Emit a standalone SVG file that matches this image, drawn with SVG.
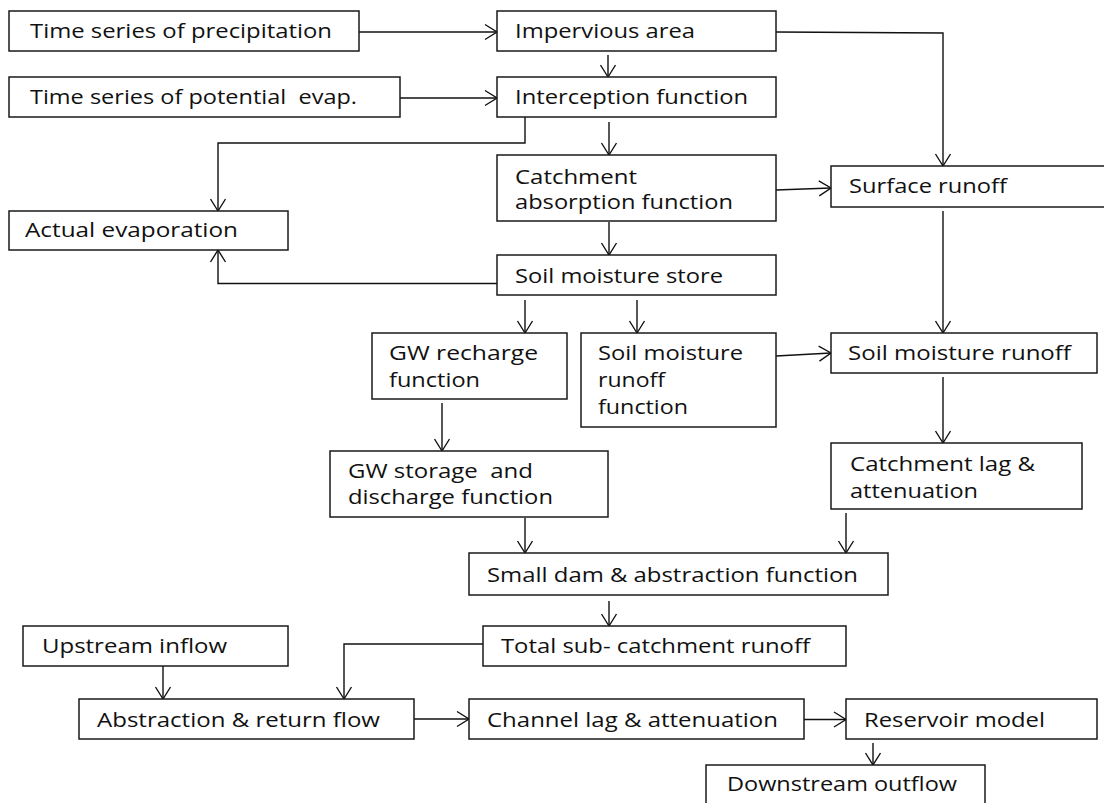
<svg xmlns="http://www.w3.org/2000/svg" width="1104" height="803" viewBox="0 0 1104 803">
  <style>
    .box { fill: #ffffff; stroke: #1a1a1a; stroke-width: 1.5; }
    .lbl { font-family: "Open Sans", "Liberation Sans", sans-serif; font-size: 20px; fill: #111111; white-space: pre; }
    .wire { fill: none; stroke: #111111; stroke-width: 1.4; }
  </style>
  <defs>
    <marker id="arrow" markerUnits="userSpaceOnUse" viewBox="-13 -9 15 18" refX="0" refY="0" markerWidth="15" markerHeight="18" orient="auto">
      <path d="M-12,-7.5 L0,0 L-12,7.5" fill="none" stroke="#111111" stroke-width="1.4"/>
    </marker>
  </defs>
  <rect width="1104" height="803" fill="#ffffff"/>

  <!-- connectors -->
  <g id="connectors" class="wire" marker-end="url(#arrow)">
    <path d="M359,32 H497"/>
    <path d="M400,98 H497"/>
    <path d="M608,55 V77"/>
    <path d="M525,117 V143 H218 V211"/>
    <path d="M609,122 V155"/>
    <path d="M776,32 L943,33 V166"/>
    <path d="M776,190 L831,188"/>
    <path d="M609,222 V255"/>
    <path d="M497,283.5 H218 V250"/>
    <path d="M525,300 V333"/>
    <path d="M637,300 V333"/>
    <path d="M943,211 V333"/>
    <path d="M776,356 L831,353"/>
    <path d="M943,377 V443"/>
    <path d="M442,403 V451"/>
    <path d="M525,518 V553"/>
    <path d="M846,513 V553"/>
    <path d="M609,601 V626"/>
    <path d="M483,644 H344 V699"/>
    <path d="M163,666 V699"/>
    <path d="M414,719 H469"/>
    <path d="M804,719.5 H846"/>
    <path d="M873,743 V765"/>
  </g>

  <g id="precipitation">
    <rect class="box" x="9" y="11" width="350" height="40"/>
    <text class="lbl" x="30" y="38" textLength="302" lengthAdjust="spacingAndGlyphs">Time series of precipitation</text>
  </g>
  <g id="potential-evap">
    <rect class="box" x="9" y="77" width="391" height="40"/>
    <text class="lbl" x="30" y="104" textLength="327" lengthAdjust="spacingAndGlyphs">Time series of potential  evap.</text>
  </g>
  <g id="impervious">
    <rect class="box" x="497" y="11" width="279" height="40"/>
    <text class="lbl" x="515" y="38" textLength="180" lengthAdjust="spacingAndGlyphs">Impervious area</text>
  </g>
  <g id="interception">
    <rect class="box" x="497" y="77" width="279" height="40"/>
    <text class="lbl" x="515" y="104" textLength="233" lengthAdjust="spacingAndGlyphs">Interception function</text>
  </g>
  <g id="catchment-absorption">
    <rect class="box" x="497" y="155" width="279" height="66"/>
    <text class="lbl" x="515" y="184" textLength="122" lengthAdjust="spacingAndGlyphs">Catchment</text>
    <text class="lbl" x="515" y="209" textLength="218" lengthAdjust="spacingAndGlyphs">absorption function</text>
  </g>
  <g id="surface-runoff">
    <rect class="box" x="831" y="166" width="280" height="41"/>
    <text class="lbl" x="849" y="193" textLength="158" lengthAdjust="spacingAndGlyphs">Surface runoff</text>
  </g>
  <g id="actual-evaporation">
    <rect class="box" x="9" y="211" width="279" height="39"/>
    <text class="lbl" x="25" y="237" textLength="213" lengthAdjust="spacingAndGlyphs">Actual evaporation</text>
  </g>
  <g id="soil-moisture-store">
    <rect class="box" x="497" y="255" width="279" height="40"/>
    <text class="lbl" x="515" y="283" textLength="208" lengthAdjust="spacingAndGlyphs">Soil moisture store</text>
  </g>
  <g id="gw-recharge">
    <rect class="box" x="372" y="333" width="195" height="66"/>
    <text class="lbl" x="389" y="360" textLength="149" lengthAdjust="spacingAndGlyphs">GW recharge</text>
    <text class="lbl" x="389" y="387" textLength="91" lengthAdjust="spacingAndGlyphs">function</text>
  </g>
  <g id="soil-moisture-runoff-function">
    <rect class="box" x="581" y="333" width="195" height="94"/>
    <text class="lbl" x="598" y="360" textLength="145" lengthAdjust="spacingAndGlyphs">Soil moisture</text>
    <text class="lbl" x="598" y="387" textLength="67" lengthAdjust="spacingAndGlyphs">runoff</text>
    <text class="lbl" x="598" y="414" textLength="90" lengthAdjust="spacingAndGlyphs">function</text>
  </g>
  <g id="soil-moisture-runoff">
    <rect class="box" x="831" y="333" width="266" height="40"/>
    <text class="lbl" x="848" y="360" textLength="223" lengthAdjust="spacingAndGlyphs">Soil moisture runoff</text>
  </g>
  <g id="catchment-lag">
    <rect class="box" x="831" y="443" width="251" height="66"/>
    <text class="lbl" x="850" y="471" textLength="185" lengthAdjust="spacingAndGlyphs">Catchment lag &amp;</text>
    <text class="lbl" x="850" y="498" textLength="128" lengthAdjust="spacingAndGlyphs">attenuation</text>
  </g>
  <g id="gw-storage">
    <rect class="box" x="330" y="451" width="278" height="66"/>
    <text class="lbl" x="348" y="478" textLength="185" lengthAdjust="spacingAndGlyphs">GW storage  and</text>
    <text class="lbl" x="348" y="504" textLength="205" lengthAdjust="spacingAndGlyphs">discharge function</text>
  </g>
  <g id="small-dam">
    <rect class="box" x="469" y="553" width="419" height="42"/>
    <text class="lbl" x="487" y="582" textLength="371" lengthAdjust="spacingAndGlyphs">Small dam &amp; abstraction function</text>
  </g>
  <g id="total-runoff">
    <rect class="box" x="483" y="626" width="363" height="40"/>
    <text class="lbl" x="501" y="653" textLength="309" lengthAdjust="spacingAndGlyphs">Total sub- catchment runoff</text>
  </g>
  <g id="upstream-inflow">
    <rect class="box" x="23" y="626" width="265" height="40"/>
    <text class="lbl" x="42" y="653" textLength="185" lengthAdjust="spacingAndGlyphs">Upstream inflow</text>
  </g>
  <g id="abstraction-return">
    <rect class="box" x="79" y="699" width="335" height="40"/>
    <text class="lbl" x="97" y="727" textLength="283" lengthAdjust="spacingAndGlyphs">Abstraction &amp; return flow</text>
  </g>
  <g id="channel-lag">
    <rect class="box" x="469" y="699" width="335" height="40"/>
    <text class="lbl" x="487" y="727" textLength="291" lengthAdjust="spacingAndGlyphs">Channel lag &amp; attenuation</text>
  </g>
  <g id="reservoir">
    <rect class="box" x="846" y="699" width="251" height="40"/>
    <text class="lbl" x="864" y="727" textLength="181" lengthAdjust="spacingAndGlyphs">Reservoir model</text>
  </g>
  <g id="downstream-outflow">
    <rect class="box" x="706" y="765" width="279" height="45"/>
    <text class="lbl" x="727" y="791" textLength="230" lengthAdjust="spacingAndGlyphs">Downstream outflow</text>
  </g>
</svg>
